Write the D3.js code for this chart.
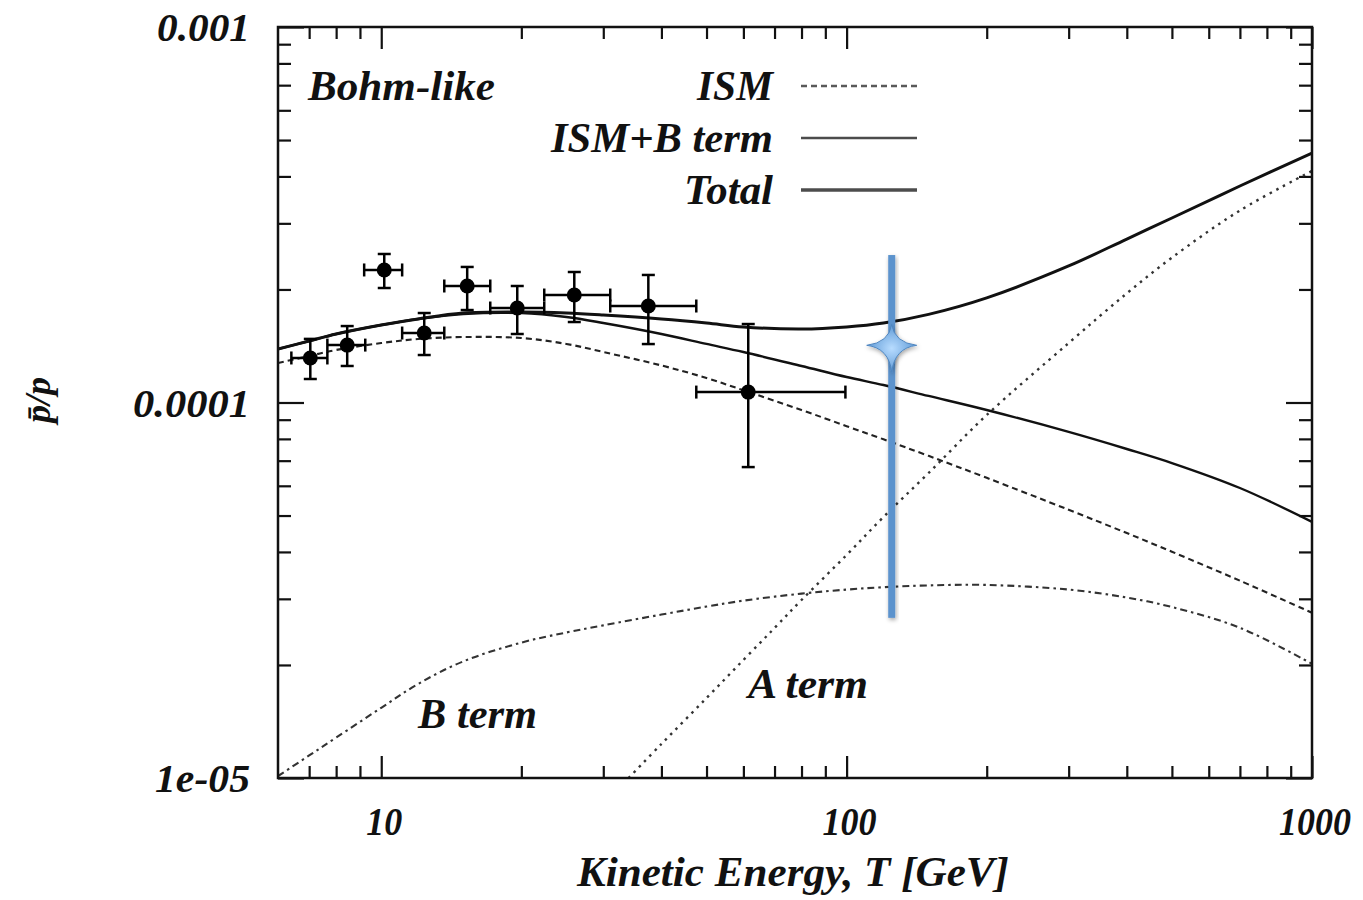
<!DOCTYPE html>
<html>
<head>
<meta charset="utf-8">
<script src="https://cdn.jsdelivr.net/npm/d3@7/dist/d3.min.js"></script>
<style>
  html, body { margin: 0; padding: 0; background: #fff; }
  svg { display: block; }
  text { font-family: "Liberation Serif", "Times New Roman", serif; font-weight: bold; font-style: italic; fill: #111; }
</style>
</head>
<body>
<svg id="chart" width="1363" height="900"></svg>
<script>
// ---------- data ----------
const energies   = [6, 7, 8, 10, 12, 15, 20, 25, 30, 40, 50, 60, 80, 100, 120, 150, 200, 300, 400, 500, 700, 1000];
const totalVals  = [1.388e-4, 1.458e-4, 1.522e-4, 1.608e-4, 1.669e-4, 1.731e-4, 1.742e-4, 1.731e-4, 1.710e-4, 1.669e-4, 1.628e-4, 1.589e-4, 1.569e-4, 1.589e-4, 1.628e-4, 1.717e-4, 1.900e-4, 2.310e-4, 2.725e-4, 3.100e-4, 3.772e-4, 4.618e-4];
const ismBVals   = [1.388e-4, 1.458e-4, 1.522e-4, 1.608e-4, 1.669e-4, 1.721e-4, 1.731e-4, 1.689e-4, 1.628e-4, 1.522e-4, 1.432e-4, 1.363e-4, 1.251e-4, 1.169e-4, 1.113e-4, 1.041e-4, 9.55e-5, 8.35e-5, 7.52e-5, 6.90e-5, 5.92e-5, 4.81e-5];
const ismVals    = [1.274e-4, 1.330e-4, 1.380e-4, 1.440e-4, 1.476e-4, 1.494e-4, 1.485e-4, 1.432e-4, 1.363e-4, 1.255e-4, 1.162e-4, 1.078e-4, 9.55e-5, 8.65e-5, 7.98e-5, 7.21e-5, 6.30e-5, 5.18e-5, 4.49e-5, 4.005e-5, 3.353e-5, 2.755e-5];
const bTermVals  = [1.012e-5, 1.148e-5, 1.281e-5, 1.538e-5, 1.780e-5, 2.044e-5, 2.294e-5, 2.441e-5, 2.550e-5, 2.724e-5, 2.861e-5, 2.967e-5, 3.098e-5, 3.175e-5, 3.222e-5, 3.258e-5, 3.267e-5, 3.175e-5, 3.024e-5, 2.853e-5, 2.512e-5, 2.014e-5];
const aTermEnergies = [34, 40, 50, 60, 70, 80, 100, 120, 150, 200, 300, 400, 500, 700, 1000];
const aTermVals     = [1.00e-5, 1.232e-5, 1.633e-5, 2.062e-5, 2.509e-5, 2.979e-5, 3.926e-5, 4.955e-5, 6.49e-5, 9.26e-5, 1.440e-4, 1.953e-4, 2.431e-4, 3.246e-4, 4.136e-4];

const dataT         = [7.04, 8.45, 10.15, 12.37, 15.30, 19.60, 25.99, 37.49, 61.46];
const dataTLow      = [6.41, 7.66, 9.19, 11.09, 13.66, 17.15, 22.40, 31.05, 47.53];
const dataTHigh     = [7.66, 9.24, 11.09, 13.66, 17.15, 22.40, 31.05, 47.53, 99.4];
const dataRatio     = [1.314e-4, 1.422e-4, 2.254e-4, 1.531e-4, 2.043e-4, 1.785e-4, 1.933e-4, 1.807e-4, 1.066e-4];
const dataRatioLow  = [1.155e-4, 1.251e-4, 2.018e-4, 1.338e-4, 1.763e-4, 1.522e-4, 1.638e-4, 1.431e-4, 6.73e-5];
const dataRatioHigh = [1.477e-4, 1.598e-4, 2.486e-4, 1.731e-4, 2.296e-4, 2.043e-4, 2.226e-4, 2.186e-4, 1.618e-4];

const xTickValues = [10, 100, 1000];
const xTickLabels = ["10", "100", "1000"];
const yTickValues = [1e-3, 1e-4, 1e-5];
const yTickLabels = ["0.001", "0.0001", "1e-05"];
const xMinorTicks = [7, 8, 9, 20, 30, 40, 50, 60, 70, 80, 90, 200, 300, 400, 500, 600, 700, 800, 900];
const yMinorTicks = [2e-5, 3e-5, 4e-5, 5e-5, 6e-5, 7e-5, 8e-5, 9e-5, 2e-4, 3e-4, 4e-4, 5e-4, 6e-4, 7e-4, 8e-4, 9e-4];

const seriesNames = ["ISM", "ISM+B term", "Total"];
const annotationT = 125;
const annotationRange = [2.67e-5, 2.47e-4];
const annotationStar = 1.42e-4;

// ---------- layout ----------
const M = { left: 278, right: 1312, top: 27, bottom: 778 };
const svg = d3.select("#chart");
const x = d3.scaleLog().domain([6, 1000]).range([M.left, M.right]);
const y = d3.scaleLog().domain([1e-5, 1e-3]).range([M.bottom, M.top]);

const defs = svg.append("defs");
defs.append("clipPath").attr("id", "plotclip")
  .append("rect").attr("x", M.left).attr("y", M.top)
  .attr("width", M.right - M.left).attr("height", M.bottom - M.top);
const shadow = defs.append("filter").attr("id", "shadow")
  .attr("x", "-50%").attr("y", "-20%").attr("width", "200%").attr("height", "140%");
shadow.append("feDropShadow").attr("dx", 1).attr("dy", 2).attr("stdDeviation", 2)
  .attr("flood-color", "#000").attr("flood-opacity", 0.35);
const grad = defs.append("radialGradient").attr("id", "stargrad");
grad.append("stop").attr("offset", "0%").attr("stop-color", "#b8dcff");
grad.append("stop").attr("offset", "100%").attr("stop-color", "#5f9ad6");

// ---------- axes ticks (inward, all four sides) ----------
function addTicks(axisFn, scale, values, size, translate) {
  const g = svg.append("g").attr("transform", translate)
    .call(axisFn(scale).tickValues(values).tickSize(size).tickFormat(""));
  g.select(".domain").remove();
  g.selectAll(".tick line").attr("stroke", "#111").attr("stroke-width", 2.2);
}
const XMAJ = 22, XMIN = 12, YMAJ = 26, YMIN = 13;
addTicks(d3.axisBottom, x, xTickValues, -XMAJ, `translate(0,${M.bottom})`);
addTicks(d3.axisBottom, x, xMinorTicks, -XMIN, `translate(0,${M.bottom})`);
addTicks(d3.axisTop, x, xTickValues, -XMAJ, `translate(0,${M.top})`);
addTicks(d3.axisTop, x, xMinorTicks, -XMIN, `translate(0,${M.top})`);
addTicks(d3.axisLeft, y, yTickValues, -YMAJ, `translate(${M.left},0)`);
addTicks(d3.axisLeft, y, yMinorTicks, -YMIN, `translate(${M.left},0)`);
addTicks(d3.axisRight, y, yTickValues, -YMAJ, `translate(${M.right},0)`);
addTicks(d3.axisRight, y, yMinorTicks, -YMIN, `translate(${M.right},0)`);

// ---------- tick labels ----------
const yLabelWidths = [93, 117, 95];
svg.append("g").selectAll("text").data(yTickValues).join("text")
  .attr("x", 250).attr("y", d => y(d) + 14)
  .attr("text-anchor", "end").attr("font-size", 40)
  .attr("textLength", (d, i) => yLabelWidths[i]).attr("lengthAdjust", "spacingAndGlyphs")
  .text((d, i) => yTickLabels[i]);
const xLabelWidths = [36, 54, 72];
svg.append("g").selectAll("text").data(xTickValues).join("text")
  .attr("x", d => x(d) + 3).attr("y", 835)
  .attr("text-anchor", "middle").attr("font-size", 40)
  .attr("textLength", (d, i) => xLabelWidths[i]).attr("lengthAdjust", "spacingAndGlyphs")
  .text((d, i) => xTickLabels[i]);

// axis titles
svg.append("text").attr("x", 793).attr("y", 886).attr("text-anchor", "middle")
  .attr("font-size", 43).attr("textLength", 432).attr("lengthAdjust", "spacingAndGlyphs")
  .text("Kinetic Energy, T [GeV]");
svg.append("text").attr("transform", "translate(50,400) rotate(-90)")
  .attr("text-anchor", "middle").attr("font-size", 36)
  .text("p\u0304/p");

// ---------- curves ----------
const plot = svg.append("g").attr("clip-path", "url(#plotclip)");
const line = d3.line().x(d => x(d[0])).y(d => y(d[1])).curve(d3.curveCatmullRom.alpha(0.5));
const zip = (xs, ys) => xs.map((v, i) => [v, ys[i]]);

const styles = {
  ism:   { stroke: "#222", width: 2.1, dash: "6,4" },
  ismB:  { stroke: "#111", width: 2.4, dash: null },
  total: { stroke: "#111", width: 3.0, dash: null },
  aTerm: { stroke: "#333", width: 2.4, dash: "2.5,5" },
  bTerm: { stroke: "#333", width: 2.1, dash: "7,4,2.5,4" }
};
function drawCurve(pts, st) {
  plot.append("path").attr("d", line(pts)).attr("fill", "none")
    .attr("stroke", st.stroke).attr("stroke-width", st.width)
    .attr("stroke-dasharray", st.dash).attr("stroke-linecap", "butt");
}
drawCurve(zip(energies, bTermVals), styles.bTerm);
drawCurve(zip(aTermEnergies, aTermVals), styles.aTerm);
drawCurve(zip(energies, ismVals), styles.ism);
drawCurve(zip(energies, ismBVals), styles.ismB);
drawCurve(zip(energies, totalVals), styles.total);

// ---------- data points with error bars ----------
const cap = 6.5;
const pts = svg.append("g").attr("stroke", "#000").attr("stroke-width", 2.5);
dataT.forEach((t, i) => {
  const cx = x(t), cy = y(dataRatio[i]);
  const x0 = x(dataTLow[i]), x1 = x(dataTHigh[i]);
  const y0 = y(dataRatioLow[i]), y1 = y(dataRatioHigh[i]);
  pts.append("line").attr("x1", x0).attr("x2", x1).attr("y1", cy).attr("y2", cy);
  pts.append("line").attr("x1", x0).attr("x2", x0).attr("y1", cy - cap).attr("y2", cy + cap);
  pts.append("line").attr("x1", x1).attr("x2", x1).attr("y1", cy - cap).attr("y2", cy + cap);
  pts.append("line").attr("x1", cx).attr("x2", cx).attr("y1", y0).attr("y2", y1);
  pts.append("line").attr("x1", cx - cap).attr("x2", cx + cap).attr("y1", y0).attr("y2", y0);
  pts.append("line").attr("x1", cx - cap).attr("x2", cx + cap).attr("y1", y1).attr("y2", y1);
  pts.append("circle").attr("cx", cx).attr("cy", cy).attr("r", 7.5).attr("fill", "#000").attr("stroke", "none");
});

// ---------- frame ----------
svg.append("rect").attr("x", M.left).attr("y", M.top)
  .attr("width", M.right - M.left).attr("height", M.bottom - M.top)
  .attr("fill", "none").attr("stroke", "#111").attr("stroke-width", 2.5);

// ---------- legend ----------
const legendStyles = [styles.ism, styles.ismB, styles.total];
const legendY = [86, 138, 190];
const legendWidths = [76, 222, 89];
const lg = svg.append("g");
seriesNames.forEach((name, i) => {
  lg.append("text").attr("x", 773).attr("y", legendY[i] + 14).attr("text-anchor", "end")
    .attr("font-size", 42).attr("textLength", legendWidths[i]).attr("lengthAdjust", "spacingAndGlyphs")
    .text(name);
  const st = legendStyles[i];
  lg.append("line").attr("x1", 801).attr("x2", 917).attr("y1", legendY[i]).attr("y2", legendY[i])
    .attr("stroke", st.stroke).attr("stroke-width", st.width + 0.3).attr("stroke-dasharray", st.dash)
    .attr("opacity", 0.75);
});

// ---------- annotations ----------
svg.append("text").attr("x", 308).attr("y", 100).attr("font-size", 42)
  .attr("textLength", 187).attr("lengthAdjust", "spacingAndGlyphs").text("Bohm-like");
svg.append("text").attr("x", 418).attr("y", 728).attr("font-size", 42)
  .attr("textLength", 119).attr("lengthAdjust", "spacingAndGlyphs").text("B term");
svg.append("text").attr("x", 748).attr("y", 698).attr("font-size", 42)
  .attr("textLength", 120).attr("lengthAdjust", "spacingAndGlyphs").text("A term");

// blue marker bar + star
const ax = x(annotationT);
svg.append("rect").attr("x", ax - 3.5).attr("width", 7)
  .attr("y", y(annotationRange[1])).attr("height", y(annotationRange[0]) - y(annotationRange[1]))
  .attr("fill", "#5b93cd").attr("filter", "url(#shadow)");
const sy = y(annotationStar);
const star = d3.path();
const rx = 25, rUp = 21, rDown = 27, inner = 4.5;
star.moveTo(ax, sy - rUp);
star.quadraticCurveTo(ax + inner * 0.6, sy - inner * 0.6, ax + rx, sy);
star.quadraticCurveTo(ax + inner * 0.6, sy + inner * 0.6, ax, sy + rDown);
star.quadraticCurveTo(ax - inner * 0.6, sy + inner * 0.6, ax - rx, sy);
star.quadraticCurveTo(ax - inner * 0.6, sy - inner * 0.6, ax, sy - rUp);
star.closePath();
svg.append("path").attr("d", star.toString()).attr("fill", "url(#stargrad)")
  .attr("stroke", "#4f86c0").attr("stroke-width", 1).attr("filter", "url(#shadow)");
</script>
</body>
</html>
